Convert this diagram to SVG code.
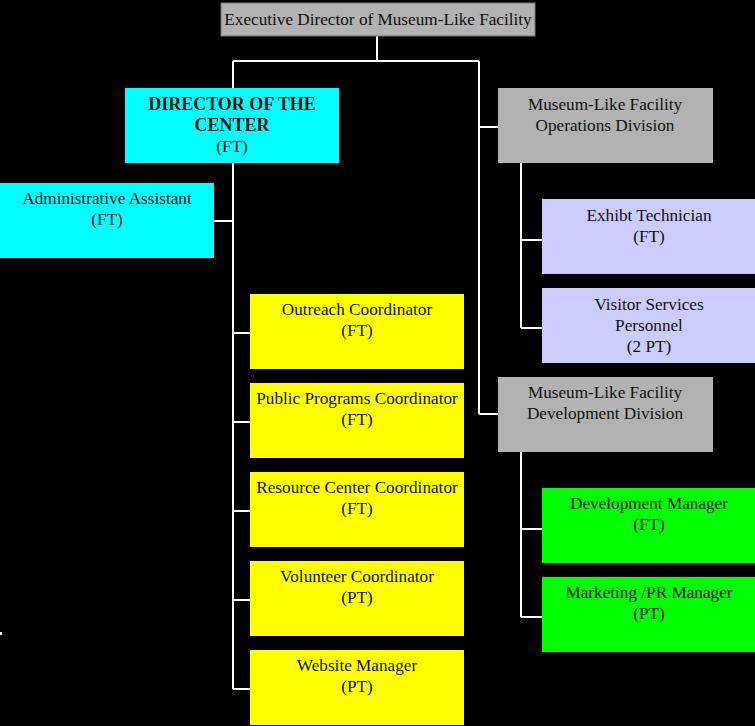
<svg xmlns="http://www.w3.org/2000/svg" width="755" height="726" viewBox="0 0 755 726">
<style>
text{font-family:"Liberation Serif","Times New Roman",serif;font-size:17.2px;fill:#111;text-anchor:middle}
.b{font-weight:bold;font-size:18px}
.conn{stroke:#fff;stroke-width:2;fill:none}
.gray{fill:#b2b2b2}
.cyan{fill:#00ffff}
.yel{fill:#ffff00}
.lav{fill:#ccccff}
.grn{fill:#00ff00}
</style>
<rect width="755" height="726" fill="#000"/>
<g id="connectors">
<path class="conn" d="M377,36V61M233,61H479M233,61V88M233,163V689M214,221H233M233,333H250M233,422H250M233,511H250M233,600H250M233,689H250"/>
<path class="conn" d="M479,61V414M479,127H498M479,414H498"/>
<path class="conn" d="M521,163V328M521,240H542M521,328H542"/>
<path class="conn" d="M521,452V617M521,529H542M521,617H542"/>
</g>
<g id="exec"><rect class="gray" x="221" y="3" width="314" height="33" stroke="#777" stroke-width="1"/><text x="378" y="25">Executive Director of Museum-Like Facility</text></g>
<g id="director"><rect class="cyan" x="125" y="88" width="214" height="75"/><text class="b" x="232" y="110">DIRECTOR OF THE</text><text class="b" x="232" y="131">CENTER</text><text x="232" y="152">(FT)</text></g>
<g id="admin"><rect class="cyan" x="0" y="183" width="214" height="75"/><text x="107" y="204">Administrative Assistant</text><text x="107" y="225">(FT)</text></g>
<g id="outreach"><rect class="yel" x="250" y="294" width="214" height="75"/><text x="357" y="315">Outreach Coordinator</text><text x="357" y="336">(FT)</text></g>
<g id="public"><rect class="yel" x="250" y="383" width="214" height="75"/><text x="357" y="404">Public Programs Coordinator</text><text x="357" y="425">(FT)</text></g>
<g id="resource"><rect class="yel" x="250" y="472" width="214" height="75"/><text x="357" y="493">Resource Center Coordinator</text><text x="357" y="514">(FT)</text></g>
<g id="volunteer"><rect class="yel" x="250" y="561" width="214" height="75"/><text x="357" y="582">Volunteer Coordinator</text><text x="357" y="603">(PT)</text></g>
<g id="website"><rect class="yel" x="250" y="650" width="214" height="75"/><text x="357" y="671">Website Manager</text><text x="357" y="692">(PT)</text></g>
<g id="operations"><rect class="gray" x="498" y="88" width="215" height="75"/><text x="605" y="110">Museum-Like Facility</text><text x="605" y="131">Operations Division</text></g>
<g id="exhibit"><rect class="lav" x="542" y="199" width="213" height="75"/><text x="649" y="221">Exhibt Technician</text><text x="649" y="242">(FT)</text></g>
<g id="visitor"><rect class="lav" x="542" y="288" width="213" height="75"/><text x="649" y="310">Visitor Services</text><text x="649" y="331">Personnel</text><text x="649" y="352">(2 PT)</text></g>
<g id="development"><rect class="gray" x="498" y="377" width="215" height="75"/><text x="605" y="398">Museum-Like Facility</text><text x="605" y="419">Development Division</text></g>
<g id="devmgr"><rect class="grn" x="542" y="488" width="213" height="75"/><text x="649" y="509">Development Manager</text><text x="649" y="530">(FT)</text></g>
<g id="marketing"><rect class="grn" x="542" y="577" width="213" height="75"/><text x="649" y="598">Marketing /PR Manager</text><text x="649" y="619">(PT)</text></g>
<rect x="0" y="632" width="2" height="3" fill="#fff"/>
</svg>
